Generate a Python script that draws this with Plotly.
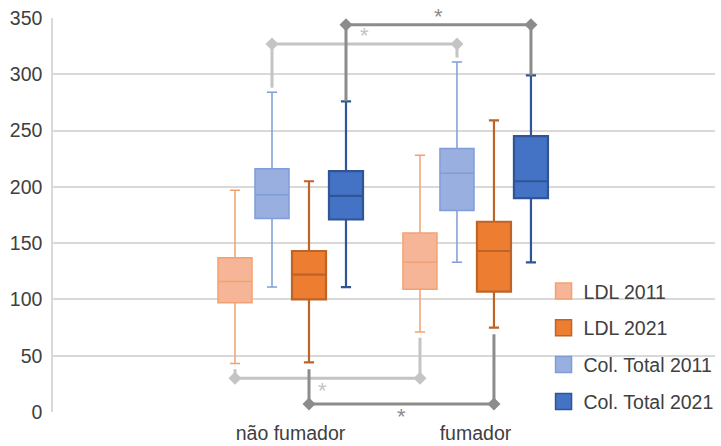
import plotly.graph_objects as go

# ---- data ----
categories = ["não fumador", "fumador"]
series_names = ["LDL 2011", "LDL 2021", "Col. Total 2011", "Col. Total 2021"]
# per series: values for [não fumador, fumador]
lower_fence = [[43, 71], [44, 75], [111, 133], [111, 133]]
q1_vals     = [[97, 109], [100, 107], [172, 179], [171, 190]]
median_vals = [[116, 133], [122, 143], [193, 212], [192, 205]]
q3_vals     = [[137, 159], [143, 169], [216, 234], [214, 245]]
upper_fence = [[197, 228], [205, 259], [284, 311], [276, 299]]

# significance brackets: (series index, side, level, label)
sig_series = [2, 3, 0, 1]
sig_side   = ["top", "top", "bottom", "bottom"]
sig_level  = [327, 344, 30, 7]
sig_label  = ["*", "*", "*", "*"]

y_ticks = [0, 50, 100, 150, 200, 250, 300, 350]

# ---- styles ----
fills = ["#F6B596", "#ED7D31", "#99AFDF", "#4472C4"]
lines = ["#F2A272", "#BE6428", "#7F9DD8", "#2F5597"]
lwidth = [1.5, 2.2, 1.5, 2.2]
sig_colors = ["#C4C4C4", "#8C8C8C", "#C4C4C4", "#8C8C8C"]
leg_gap = [4, 0, 5, 6]
star_xshift = [0, 0, -5, 0]
# visual order within a group: LDL 2011, Col 2011, LDL 2021, Col 2021
offsets = [-0.3, 0.1, -0.1, 0.3]
box_w = 0.184

FONT = "Liberation Sans, Arial, sans-serif"
TXT = "#404040"

fig = go.Figure()

for i, name in enumerate(series_names):
    xs = [g + offsets[i] for g in range(len(categories))]
    fig.add_trace(go.Box(
        x=xs, q1=q1_vals[i], median=median_vals[i], q3=q3_vals[i],
        lowerfence=lower_fence[i], upperfence=upper_fence[i],
        width=box_w, whiskerwidth=0.3,
        fillcolor=fills[i], line=dict(color=lines[i], width=lwidth[i]),
        name=name, showlegend=False, hoverinfo="skip",
    ))

# brackets
for k, s in enumerate(sig_series):
    xa = 0 + offsets[s]
    xb = 1 + offsets[s]
    if sig_side[k] == "top":
        ya = upper_fence[s][0] + leg_gap[k]
        yb = upper_fence[s][1] + leg_gap[k]
    else:
        ya = lower_fence[s][0] - leg_gap[k]
        yb = lower_fence[s][1] - leg_gap[k]
    lvl = sig_level[k]
    fig.add_trace(go.Scatter(
        x=[xa, xa, xb, xb], y=[ya, lvl, lvl, yb], mode="lines",
        line=dict(color=sig_colors[k], width=3), showlegend=False,
        hoverinfo="skip", cliponaxis=False,
    ))
    fig.add_trace(go.Scatter(
        x=[xa, xb], y=[lvl, lvl], mode="markers",
        marker=dict(symbol="diamond", size=10, color=sig_colors[k]),
        showlegend=False, hoverinfo="skip", cliponaxis=False,
    ))
    fig.add_annotation(
        x=(xa + xb) / 2, y=lvl, text=sig_label[k], showarrow=False,
        yshift=8 if sig_side[k] == "top" else -12, xshift=star_xshift[k],
        font=dict(family=FONT, size=22, color=sig_colors[k]),
    )

# legend proxies
for i, name in enumerate(series_names):
    fig.add_trace(go.Scatter(
        x=[None], y=[None], mode="markers", name=name,
        marker=dict(symbol="square", size=16, color=fills[i],
                    line=dict(color=lines[i], width=1.5)),
        legendgroup=name,
    ))

fig.update_layout(
    width=721, height=446,
    margin=dict(l=53, r=6, t=18, b=34, autoexpand=False),
    paper_bgcolor="white", plot_bgcolor="white",
    font=dict(family=FONT, size=19.5, color=TXT),
    showlegend=True,
    legend=dict(x=0.741, y=0.356, xanchor="left", yanchor="top",
                bgcolor="rgba(0,0,0,0)", traceorder="grouped",
                tracegroupgap=8.5, font=dict(size=19.5, color=TXT)),
    xaxis=dict(range=[-1.284, 2.295], tickvals=[0, 1], ticktext=categories,
               showgrid=False, zeroline=False, showline=False, ticks="",
               ticklabelstandoff=7, automargin=False),
    yaxis=dict(range=[0, 350], tickvals=y_ticks, showgrid=True,
               gridcolor="#D9D9D9", gridwidth=1.5, zeroline=False,
               showline=True, linecolor="#D9D9D9", linewidth=1.5,
               ticks="", ticklabelstandoff=5, ticklabeloverflow="allow",
               automargin=False),
)

fig.write_html(
    "out.html",
    config={"displayModeBar": False},
    post_script="document.body.style.margin='0px';"
                "document.body.style.overflow='hidden';",
)
